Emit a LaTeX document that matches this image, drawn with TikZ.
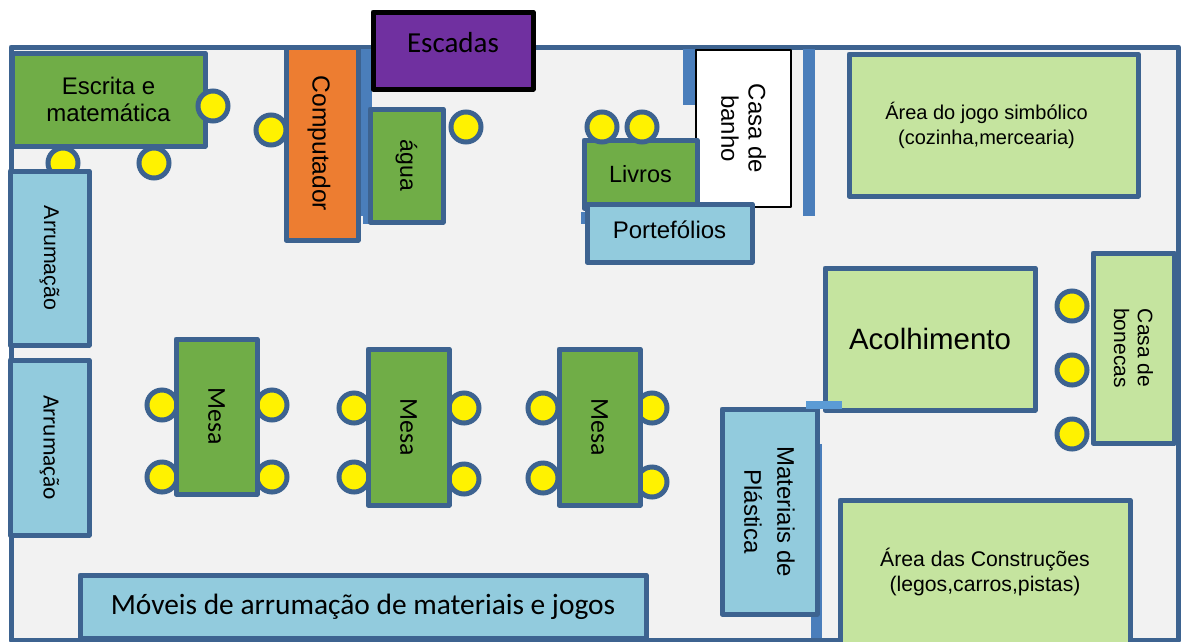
\documentclass[tikz,border=0pt]{standalone}
\usepackage{fontspec}
\setmainfont{Liberation Sans}
\newfontfamily\carl{Carlito}
\definecolor{edge}{HTML}{3D6390}
\definecolor{wall}{HTML}{4A7EBB}
\definecolor{lightwall}{HTML}{5B9BD5}
\definecolor{floorc}{HTML}{F2F2F2}
\definecolor{grn}{HTML}{70AD47}
\definecolor{lgrn}{HTML}{C5E49F}
\definecolor{blu}{HTML}{92CBDD}
\definecolor{org}{HTML}{ED7D31}
\definecolor{pur}{HTML}{7030A0}
\newcommand{\fs}[1]{\fontsize{#1}{\fpeval{#1*1.14}}\selectfont}
\newcommand{\up}[1]{\rule[-#1pt]{0pt}{#1pt}}
\newcommand{\dn}[1]{\rule{0pt}{#1pt}}
\newcommand{\pad}[1]{\rule{#1pt}{0pt}}
\tikzset{
  x=1pt,y=-1pt,
  area/.style={draw=edge,line width=5pt,rectangle,inner sep=0pt,outer sep=0pt,align=center,text=black,line join=round},
  darkgreen/.style={area,fill=grn},
  palegreen/.style={area,fill=lgrn},
  paleblue/.style={area,fill=blu},
  seat/.style={circle,draw=edge,fill=yellow,line width=5pt,minimum size=30pt,inner sep=0pt,outer sep=0pt},
  wallpiece/.style={fill=wall},
}
% name, x1, y1, x2, y2, style, text
\newcommand{\hbx}[7]{%
  \pgfmathsetmacro{\cenx}{(#2+#4)/2}\pgfmathsetmacro{\ceny}{(#3+#5)/2}%
  \pgfmathsetmacro{\bw}{#4-#2}\pgfmathsetmacro{\bh}{#5-#3}%
  \node[#6,minimum width=\bw pt,minimum height=\bh pt] (#1) at (\cenx,\ceny) {#7};}
\newcommand{\vbx}[7]{%
  \pgfmathsetmacro{\cenx}{(#2+#4)/2}\pgfmathsetmacro{\ceny}{(#3+#5)/2}%
  \pgfmathsetmacro{\bw}{#4-#2}\pgfmathsetmacro{\bh}{#5-#3}%
  \node[#6,rotate=-90,minimum width=\bh pt,minimum height=\bw pt] (#1) at (\cenx,\ceny) {#7};}
\newcommand{\seatat}[3]{\node[seat] (#1) at (#2,#3) {};}
\begin{document}
\begin{tikzpicture}
\useasboundingbox (0,0) rectangle (1182,641);
\fill[white] (0,0) rectangle (1182,641);
\draw[draw=edge,fill=floorc,line width=5pt,line join=round] (11,47) -- (1178.5,47) -- (1178.5,640) -- (11,640) -- cycle;
% walls
\fill[wallpiece] (359,49) rectangle (372,216);
\fill[wallpiece] (363,210) rectangle (375,224);
\fill[wallpiece] (683,49) rectangle (695,105);
\fill[wallpiece] (803,49) rectangle (815,216);
\fill[wallpiece] (581,212) rectangle (590,224);
\fill[wallpiece] (811,444) rectangle (822,638);
% seats under furniture
\seatat{s1}{63}{163}
\seatat{s2}{154}{163}
% furniture
\hbx{escrita}{12}{53}{205}{146}{darkgreen,font=\fs{24}}{Escrita e\\matemática}
\seatat{s3}{213}{106}
\vbx{comp}{286}{47}{358}{240}{area,fill=org,font=\fs{24.6}}{\dn{24}Computador}
\seatat{s4}{271}{130}
\vbx{agua}{370}{109}{443}{222}{darkgreen,font=\fs{23}}{água}
\seatat{s5}{466}{127}
\hbx{escadas}{373}{12}{533}{89}{area,fill=pur,draw=black,font=\carl\fs{29}}{Escadas\up{16}}
\vbx{banho}{696}{50}{791}{207}{area,fill=white,draw=black,line width=1.5pt,font=\fs{24}}{Casa de\\banho}
\hbx{livros}{584}{140}{697}{208}{darkgreen,font=\fs{23.5}}{Livros}
\hbx{porte}{587}{204}{752}{262}{paleblue,font=\fs{24}}{Portefólios\up{7}}
\seatat{s6}{602}{127}
\seatat{s7}{642}{127}
\hbx{jogo}{849}{54}{1138}{196}{palegreen,font=\fontsize{20}{25}\selectfont}{Área do jogo simbólico\pad{14}\\(cozinha,mercearia)\pad{14}}
\hbx{acolh}{825}{268}{1035}{410}{palegreen,font=\fs{29.4}}{Acolhimento}
\vbx{bonecas}{1093}{253}{1174}{443}{palegreen,font=\fs{21}}{Casa de\\bonecas}
\seatat{s8}{1072}{306}
\seatat{s9}{1072}{370}
\seatat{s10}{1072}{434}
\vbx{arr1}{10}{171}{89}{345}{paleblue,font=\fs{21.3}}{Arrumação}
\vbx{arr2}{10}{360}{89}{535}{paleblue,font=\carl\fs{23.3}}{Arrumação}
\seatat{m1a}{162}{405}\seatat{m1b}{272}{405}\seatat{m1c}{162}{477}\seatat{m1d}{272}{477}
\seatat{m2a}{354}{408}\seatat{m2b}{464}{408}\seatat{m2c}{354}{477}\seatat{m2d}{464}{479}
\seatat{m3a}{543}{408}\seatat{m3b}{652}{408}\seatat{m3c}{543}{478}\seatat{m3d}{652}{482}
\vbx{mesa1}{176}{339}{257}{494}{darkgreen,font=\carl\fs{25.8}}{Mesa}
\vbx{mesa2}{368}{349}{449}{505}{darkgreen,font=\carl\fs{25.8}}{Mesa}
\vbx{mesa3}{559}{349}{640}{505}{darkgreen,font=\carl\fs{25.8}}{Mesa}
\vbx{mat}{722}{409}{817}{614}{paleblue,font=\fontsize{24}{33}\selectfont}{Materiais de\\Plástica}
\fill[lightwall] (806,401) rectangle (842,409);
\hbx{constr}{840}{500}{1130}{644}{palegreen,font=\fontsize{21.2}{25}\selectfont}{Área das Construções\\(legos,carros,pistas)}
\hbx{moveis}{80}{575}{646}{638}{paleblue,font=\carl\fs{29.4}}{Móveis de arrumação de materiais e jogos}
\end{tikzpicture}
\end{document}
